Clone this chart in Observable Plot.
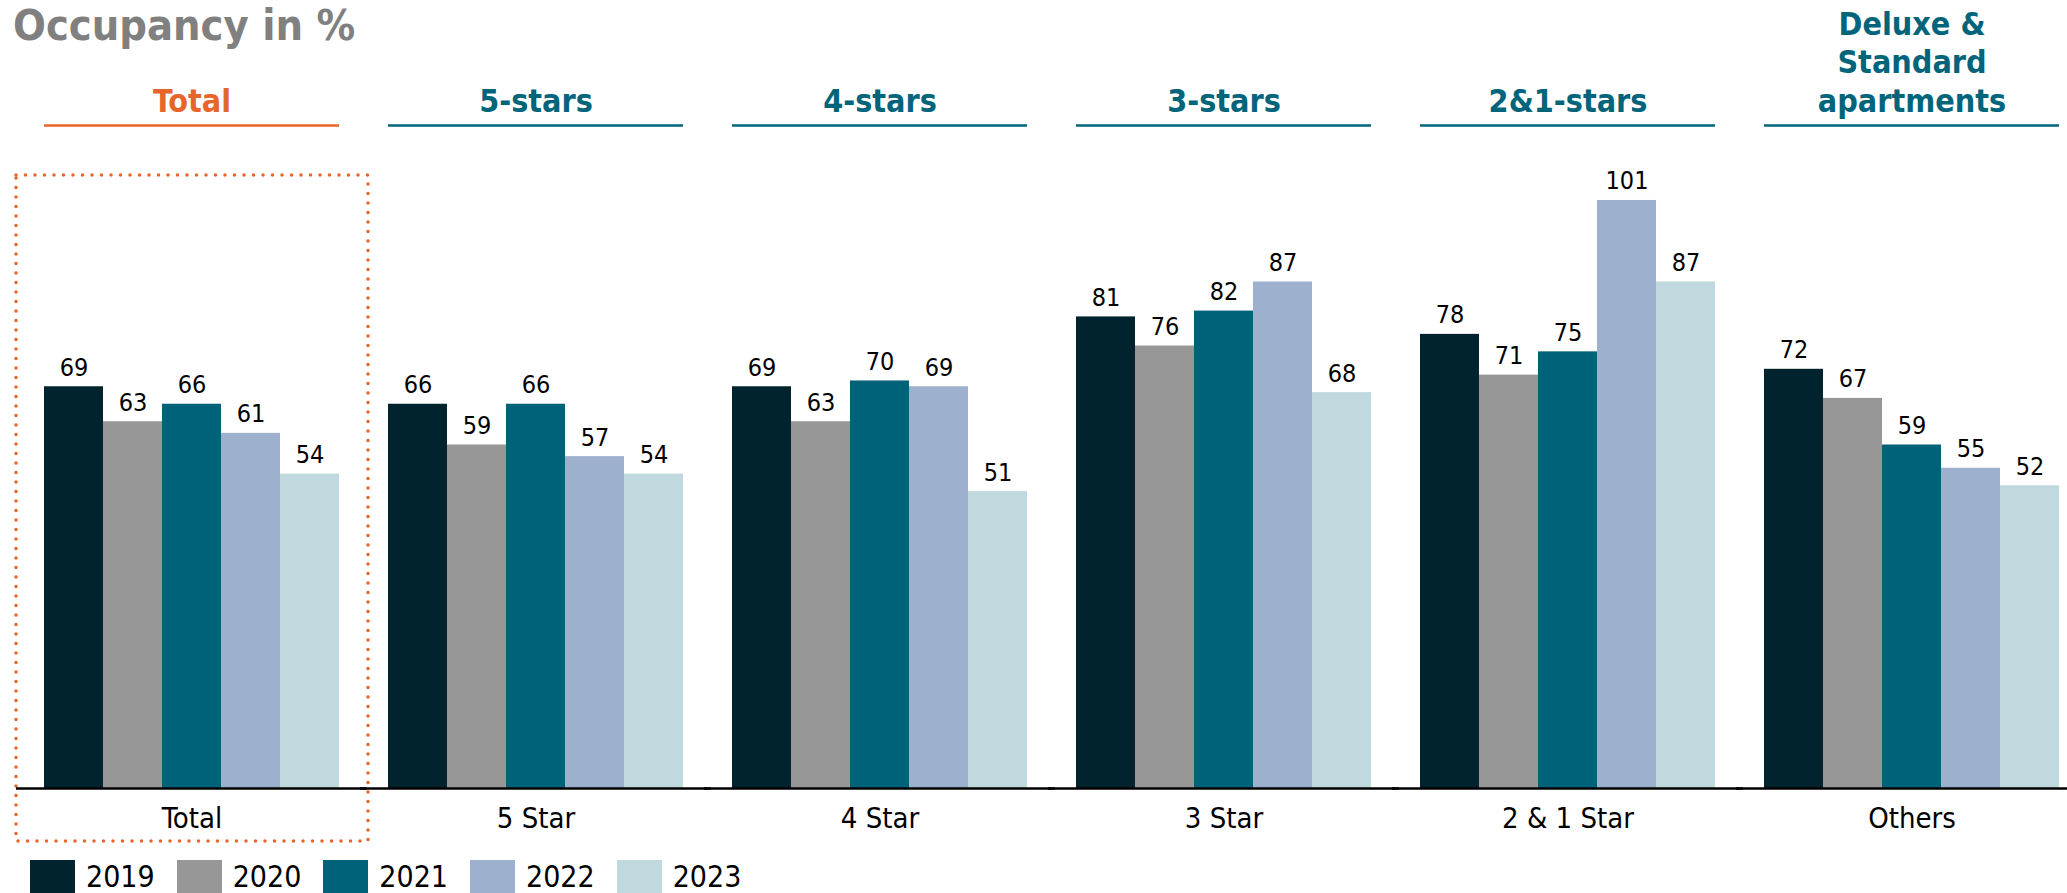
<!DOCTYPE html>
<html>
<head>
<meta charset="utf-8">
<script src="https://cdn.jsdelivr.net/npm/d3@7"></script>
<script src="https://cdn.jsdelivr.net/npm/@observablehq/plot@0.6"></script>
<style>
  html, body { margin: 0; padding: 0; background: #fff; }
  body { font-family: "DejaVu Sans Condensed", "DejaVu Sans", sans-serif; font-stretch: condensed; }
  #wrap { position: relative; width: 2067px; height: 893px; overflow: hidden; background: #fff; }
  #title { position: absolute; z-index: 2; left: 13px; top: 0px; font-size: 43px; line-height: 50px; font-weight: bold; color: #808080; }
  #chart svg { display: block; }
  #legend { display: flex; align-items: center; height: 33px; margin-top: 10px; padding-left: 30px; font-size: 30px; line-height: 30px; color: #000; }
  #legend .item { display: flex; align-items: center; margin-right: 22px; }
  #legend .sw { width: 45px; height: 33px; margin-right: 11px; }
  #legend span { display: block; line-height: 30px; }
</style>
</head>
<body>
<div id="wrap">
  <div id="title">Occupancy in %</div>
  <div id="chart"></div>
  <div id="legend"></div>
</div>
<script>
// ---- data ----
const categories = ["Total", "5 Star", "4 Star", "3 Star", "2 & 1 Star", "Others"];
const headers = ["Total", "5-stars", "4-stars", "3-stars", "2&1-stars", "Deluxe &\nStandard\napartments"];
const years = ["2019", "2020", "2021", "2022", "2023"];
const v2019 = [69, 66, 69, 81, 78, 72];
const v2020 = [63, 59, 63, 76, 71, 67];
const v2021 = [66, 66, 70, 82, 75, 59];
const v2022 = [61, 57, 69, 87, 101, 55];
const v2023 = [54, 54, 51, 68, 87, 52];
const highlighted = ["Total"];

// ---- styles ----
const yearColors = ["#01232D", "#979797", "#006278", "#9DB0CE", "#C0D9DE"];
const orange = "#E8652A";
const teal = "#00647A";
const font = '"DejaVu Sans Condensed", "DejaVu Sans", sans-serif';

const seriesValues = [v2019, v2020, v2021, v2022, v2023];
const data = categories.flatMap((c, i) =>
  years.map((y, j) => ({category: c, year: y, value: seriesValues[j][i]}))
);
const headerData = categories.map((c, i) => ({category: c, header: headers[i], hl: highlighted.includes(c)}));
const hlData = headerData.filter(d => d.hl);
const normalData = headerData.filter(d => !d.hl);

const yMax = 111.3;

const chart = Plot.plot({
  width: 2067,
  height: 850,
  marginTop: 140,
  marginBottom: 62,
  marginLeft: 41,
  marginRight: 5,
  style: {fontFamily: font, fontSize: "29px", color: "#000", background: "transparent", overflow: "visible"},
  fx: {domain: categories, padding: 0.142, label: null, axis: "bottom", tickSize: 0, tickPadding: 19},
  x: {domain: years, axis: null, padding: 0},
  y: {domain: [0, yMax], axis: null},
  color: {domain: years, range: yearColors},
  marks: [
    Plot.rect(hlData, {
      fx: "category", fill: "none", stroke: orange, strokeWidth: 3.5,
      strokeDasharray: "0 9.5", strokeLinecap: "round",
      insetLeft: -28, insetRight: -29, insetTop: 35, insetBottom: -53
    }),
    Plot.barY(data, {fx: "category", x: "year", y: "value", fill: "year"}),
    Plot.text(data, {
      fx: "category", x: "year", y: "value", text: d => String(d.value),
      lineAnchor: "bottom", dy: -11, fontSize: 25, fill: "#000"
    }),
    Plot.ruleY([0], {stroke: "#000", strokeWidth: 2.5, insetLeft: -28, insetRight: -28}),
    Plot.text(hlData, {
      fx: "category", frameAnchor: "top", text: "header", lineAnchor: "bottom",
      dy: -29, fontSize: 32, fontWeight: "bold", fill: orange, lineHeight: 1.2
    }),
    Plot.text(normalData, {
      fx: "category", frameAnchor: "top", text: "header", lineAnchor: "bottom",
      dy: -29, fontSize: 32, fontWeight: "bold", fill: teal, lineHeight: 1.2
    }),
    Plot.ruleY(hlData, {fx: "category", y: () => yMax, dy: -15, stroke: orange, strokeWidth: 2.5}),
    Plot.ruleY(normalData, {fx: "category", y: () => yMax, dy: -15, stroke: teal, strokeWidth: 2.5})
  ]
});
document.getElementById("chart").appendChild(chart);

// ---- legend from the chart's color scale ----
const cs = chart.scale("color");
const legend = document.getElementById("legend");
cs.domain.forEach((d, i) => {
  const item = document.createElement("div");
  item.className = "item";
  const sw = document.createElement("div");
  sw.className = "sw";
  sw.style.background = cs.range[i];
  const label = document.createElement("span");
  label.textContent = d;
  item.appendChild(sw);
  item.appendChild(label);
  legend.appendChild(item);
});
</script>
</body>
</html>
